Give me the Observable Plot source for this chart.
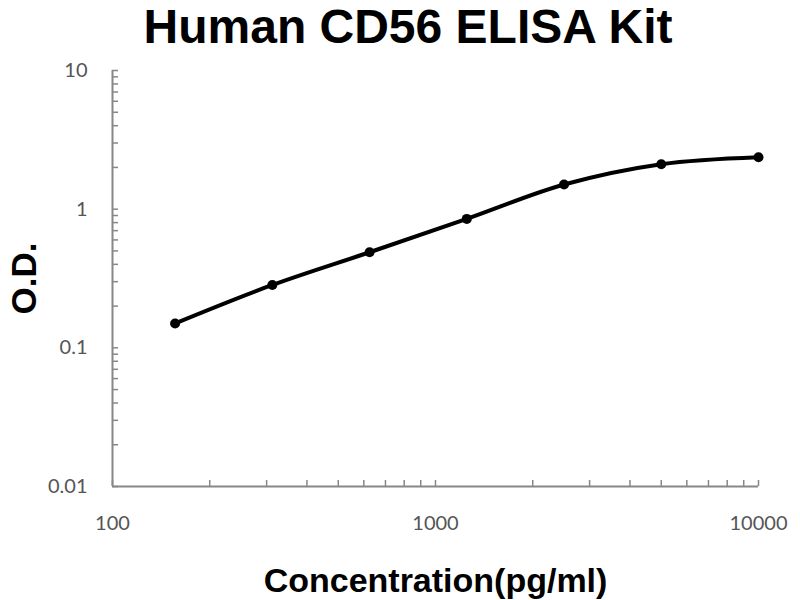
<!DOCTYPE html>
<html lang="en">
<head>
<meta charset="UTF-8">
<title>Human CD56 ELISA Kit</title>
<script src="https://cdn.jsdelivr.net/npm/d3@7"></script>
<script src="https://cdn.jsdelivr.net/npm/@observablehq/plot@0.6/dist/plot.umd.min.js"></script>
<style>
  body { margin: 0; background: #fff; }
  #title {
    width: 800px; height: 54px; line-height: 54px; text-align: center;
    box-sizing: border-box; padding-left: 16px;
    font-family: "Liberation Sans", Arial, sans-serif; font-weight: bold;
    font-size: 48px; color: #000; white-space: nowrap;
  }
</style>
</head>
<body>
<div id="title">Human CD56 ELISA Kit</div>
<div id="chart"></div>
<script>
// standard curve: concentration (pg/ml) vs optical density
const concentration = [156.25, 312.5, 625, 1250, 2500, 5000, 10000];
const od = [0.15, 0.284, 0.489, 0.851, 1.505, 2.11, 2.37];

const xTickLabels = [100, 1000, 10000];
const yTickLabels = [0.01, 0.1, 1, 10];

const points = concentration.map((c, i) => ({conc: c, od: od[i]}));

const axisColor = "#878787";
const labelColor = "#555";
const boldFont = "Liberation Sans, Arial, sans-serif";

const plot = Plot.plot({
  width: 800,
  height: 546,
  marginTop: 16,
  marginLeft: 112,
  marginRight: 42,
  marginBottom: 114,
  style: {fontFamily: "Lato, sans-serif", background: "white"},
  x: {type: "log", domain: [100, 10000]},
  y: {type: "log", domain: [0.01, 10]},
  marks: [
    // minor ticks pointing inward
    Plot.axisY({tickSize: -6, text: null, stroke: axisColor, strokeWidth: 1.5, label: null}),
    Plot.axisX({tickSize: -6, text: null, stroke: axisColor, strokeWidth: 1.5, label: null}),
    // decade labels
    Plot.axisY({ticks: yTickLabels, tickSize: 0, tickPadding: 25, tickFormat: d => String(d),
      fontSize: 20, fill: labelColor, label: null}),
    Plot.axisX({ticks: xTickLabels, tickSize: 0, tickPadding: 29, tickFormat: d => String(d),
      fontSize: 20, fill: labelColor, label: null}),
    Plot.ruleX([100], {stroke: axisColor, strokeWidth: 2}),
    Plot.ruleY([0.01], {stroke: axisColor, strokeWidth: 2}),
    Plot.line(points, {x: "conc", y: "od", curve: "monotone-x", stroke: "black", strokeWidth: 4}),
    Plot.dot(points, {x: "conc", y: "od", r: 5, fill: "black"}),
    Plot.text(["Concentration(pg/ml)"], {frameAnchor: "bottom", lineAnchor: "middle", textAnchor: "middle",
      dy: 95, fontSize: 34, fontWeight: "bold", fontFamily: boldFont, fill: "black"}),
    Plot.text(["O.D."], {frameAnchor: "left", textAnchor: "middle", lineAnchor: "middle",
      dx: -88, rotate: -90, fontSize: 35, fontWeight: "bold", fontFamily: boldFont, fill: "black"})
  ]
});

document.querySelector("#chart").append(plot);
</script>
</body>
</html>
